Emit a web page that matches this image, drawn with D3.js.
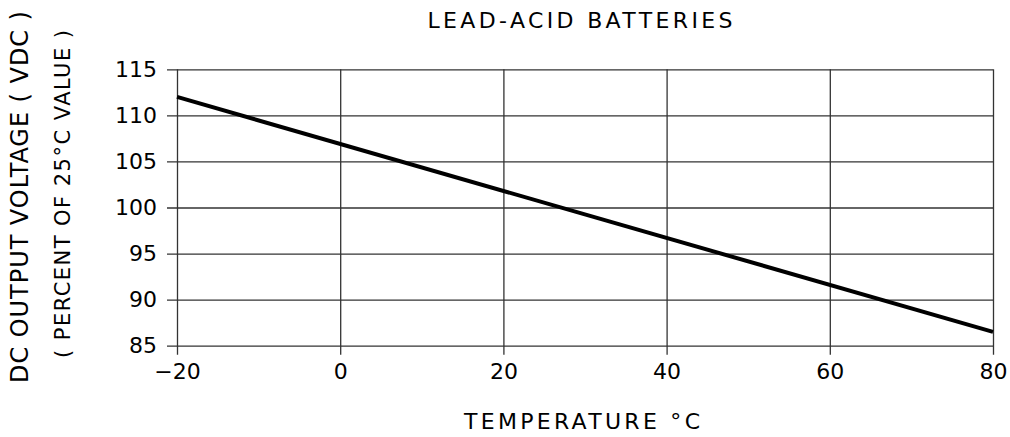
<!DOCTYPE html>
<html>
<head>
<meta charset="utf-8">
<script src="https://cdn.jsdelivr.net/npm/d3@7"></script>
<style>
  body { margin: 0; background: #fff; }
  text { font-family: "DejaVu Sans", sans-serif; fill: #000; }
</style>
</head>
<body>
<div id="chart"></div>
<script>
// values
var temps = [-20, 80];
var voltagePct = [112, 86.5];
var xTicks = [-20, 0, 20, 40, 60, 80];
var yTicks = [85, 90, 95, 100, 105, 110, 115];

var width = 1010;
var height = 437;

var svg = d3.select("#chart")
    .append("svg")
    .attr("width", width)
    .attr("height", height);

var x = d3.scaleLinear().domain([-20, 80]).range([177, 993]);
var y = d3.scaleLinear().domain([85, 115]).range([345.7, 69.3]);

// horizontal grid + y labels (ticks stick out 10px to the left)
var yAxis = d3.axisLeft(y)
    .tickValues(yTicks)
    .tickSize(x(80) - x(-20) + 10)
    .tickPadding(10);

var gy = svg.append("g")
    .attr("transform", "translate(" + x(80) + ",0)")
    .call(yAxis);

// vertical grid + x labels (ticks stick out 9px below)
var xAxis = d3.axisBottom(x)
    .tickValues(xTicks)
    .tickSize(y(85) - y(115) + 9)
    .tickPadding(9)
    .tickFormat(function(d) { return d < 0 ? "\u2212" + Math.abs(d) : d; });

var gx = svg.append("g")
    .attr("transform", "translate(0," + y(115) + ")")
    .call(xAxis);

[gx, gy].forEach(function(g) {
    g.select(".domain").remove();
    g.selectAll(".tick line").attr("stroke", "#333").attr("stroke-width", 1.3);
    g.selectAll(".tick text")
        .style("font-size", "22px")
        .attr("fill", "#000");
});

// the curve
var line = d3.line()
    .x(function(d, i) { return x(temps[i]); })
    .y(function(d) { return y(d); });

svg.append("path")
    .datum(voltagePct)
    .attr("fill", "none")
    .attr("stroke", "#000")
    .attr("stroke-width", 4)
    .attr("d", line);

// titles
svg.append("text")
    .attr("x", 580)
    .attr("y", 28)
    .attr("text-anchor", "middle")
    .attr("textLength", 305)
    .attr("lengthAdjust", "spacing")
    .style("font-size", "22px")
    .text("LEAD-ACID BATTERIES");

svg.append("text")
    .attr("x", 582)
    .attr("y", 429)
    .attr("text-anchor", "middle")
    .attr("textLength", 236)
    .attr("lengthAdjust", "spacing")
    .style("font-size", "22px")
    .text("TEMPERATURE \u00B0C");

svg.append("text")
    .attr("transform", "translate(28,197) rotate(-90)")
    .attr("text-anchor", "middle")
    .attr("textLength", 372)
    .attr("lengthAdjust", "spacing")
    .style("font-size", "24px")
    .text("DC OUTPUT VOLTAGE ( VDC )");

svg.append("text")
    .attr("transform", "translate(70,194) rotate(-90)")
    .attr("text-anchor", "middle")
    .attr("textLength", 328)
    .attr("lengthAdjust", "spacing")
    .style("font-size", "21px")
    .text("( PERCENT OF 25\u00B0C VALUE )");
</script>
</body>
</html>
